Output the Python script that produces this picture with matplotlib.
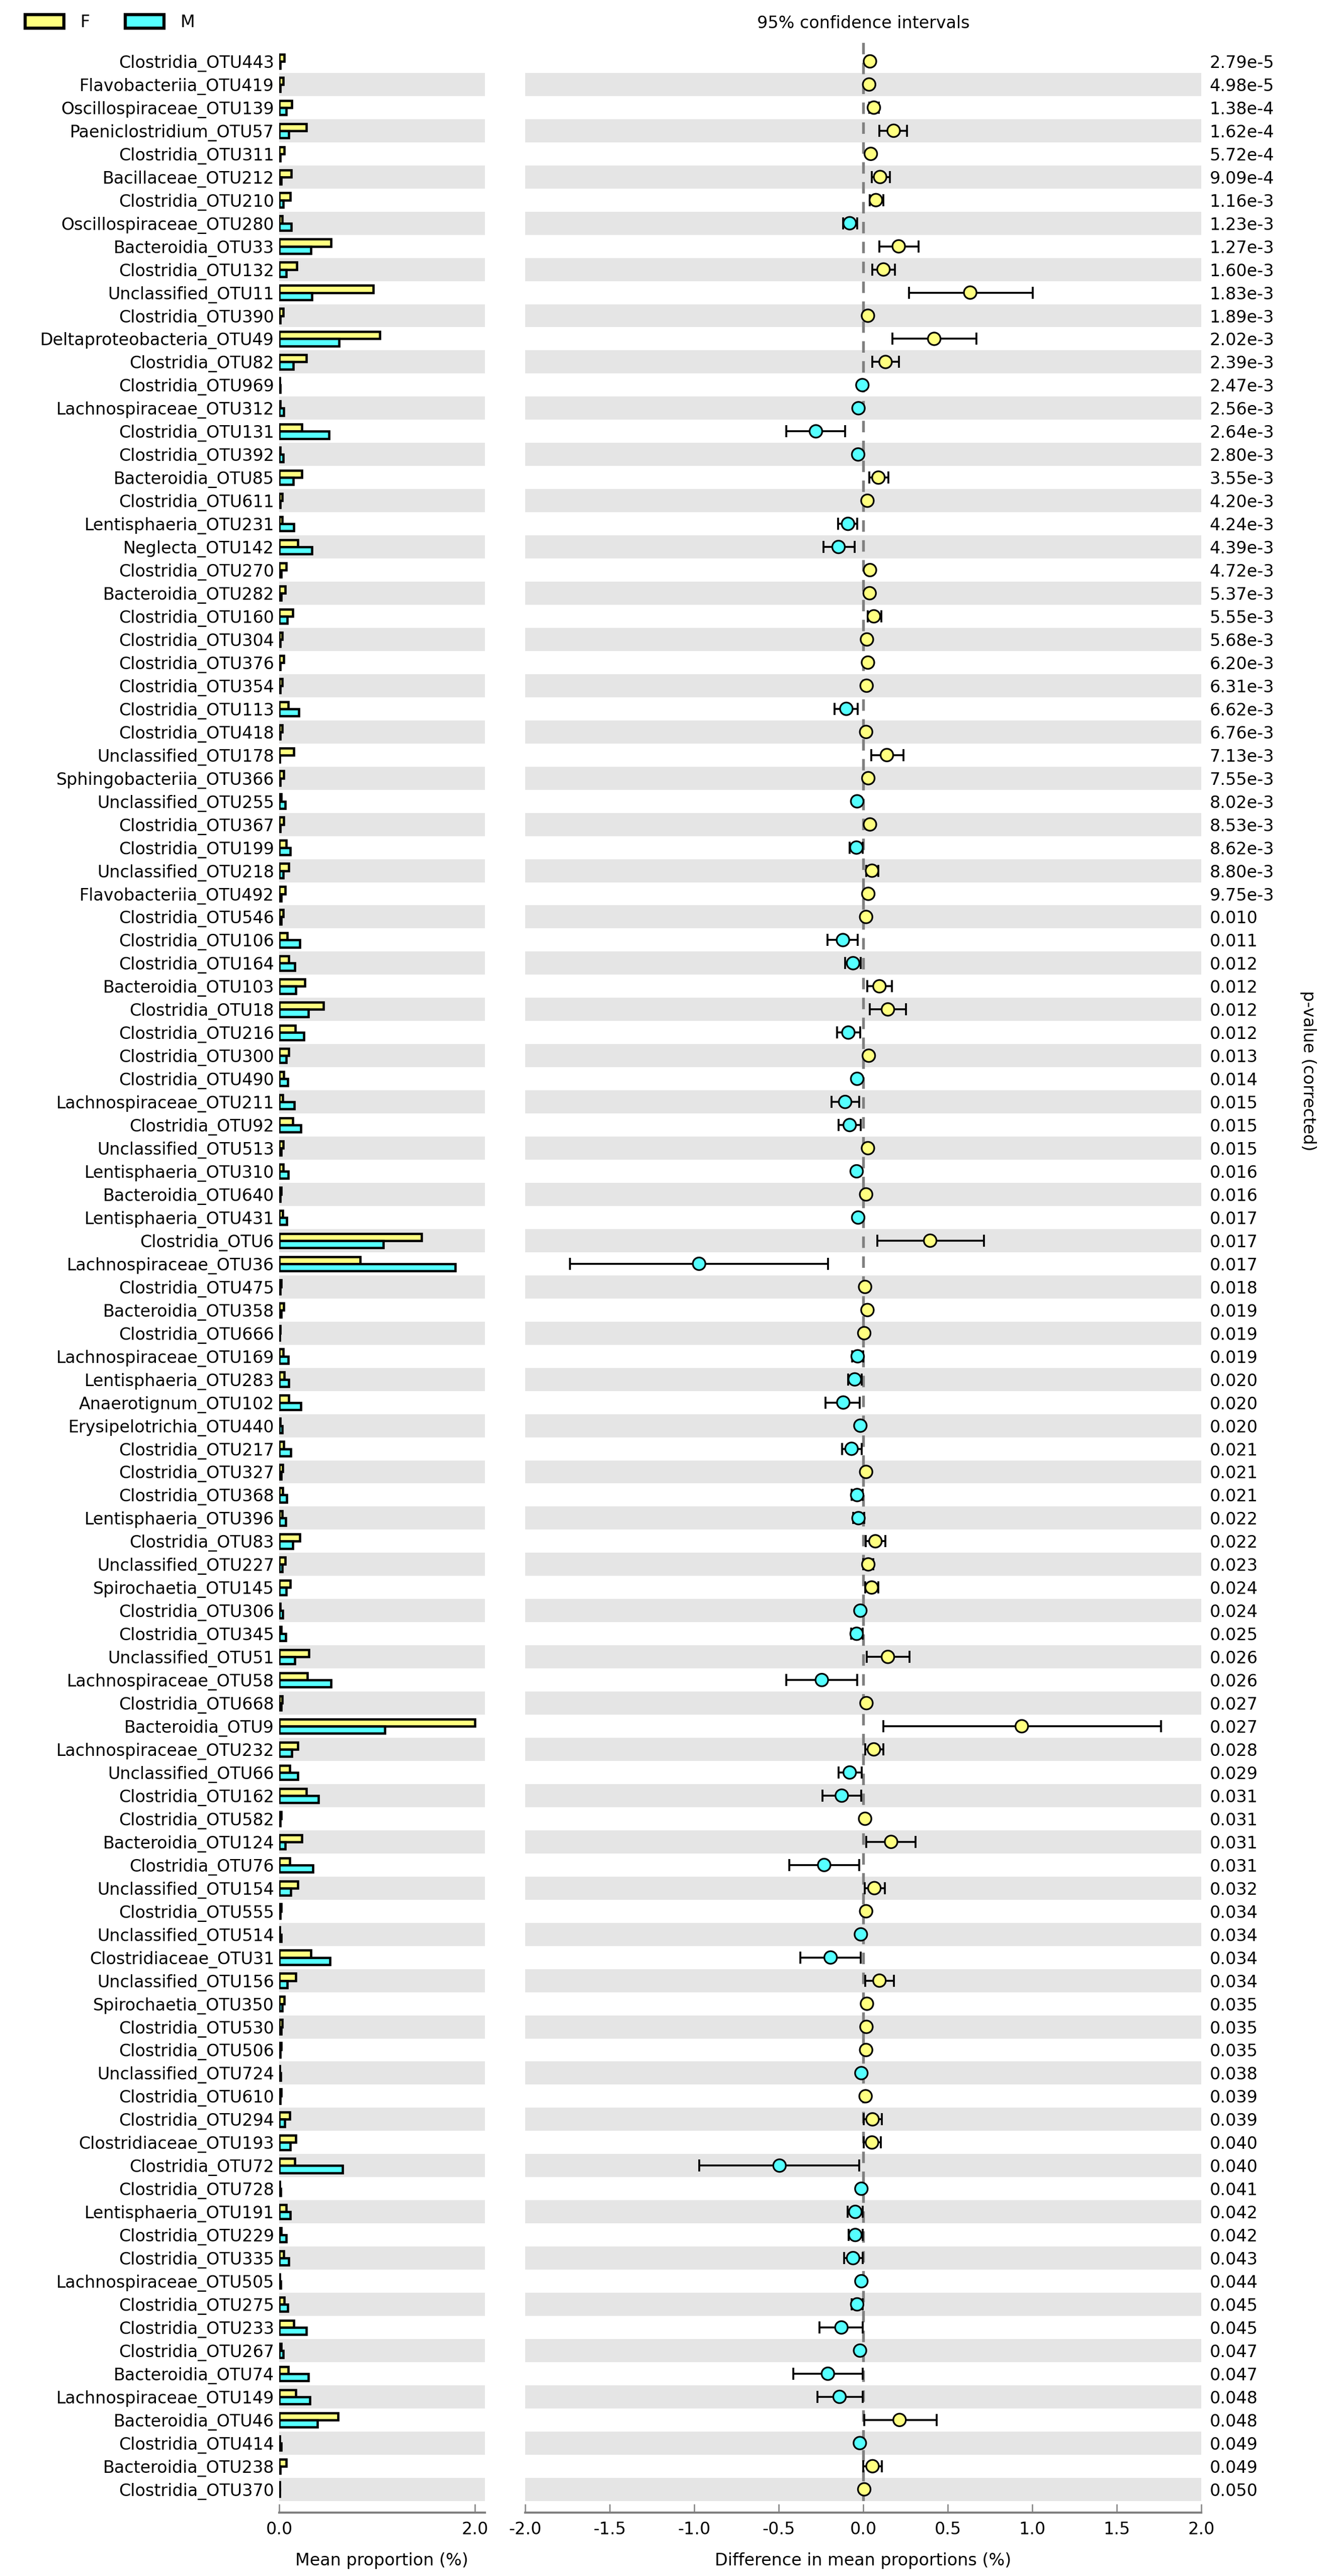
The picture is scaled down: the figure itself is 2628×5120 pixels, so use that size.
import matplotlib
matplotlib.use("Agg")
import matplotlib.pyplot as plt
from matplotlib.patches import Patch
import numpy as np

plt.rcParams["font.family"] = ["DejaVu Sans"]
plt.rcParams["axes.unicode_minus"] = False

# rows, top to bottom
names = [
    "Clostridia_OTU443", "Flavobacteriia_OTU419", "Oscillospiraceae_OTU139", "Paeniclostridium_OTU57",
    "Clostridia_OTU311", "Bacillaceae_OTU212", "Clostridia_OTU210", "Oscillospiraceae_OTU280",
    "Bacteroidia_OTU33", "Clostridia_OTU132", "Unclassified_OTU11", "Clostridia_OTU390",
    "Deltaproteobacteria_OTU49", "Clostridia_OTU82", "Clostridia_OTU969", "Lachnospiraceae_OTU312",
    "Clostridia_OTU131", "Clostridia_OTU392", "Bacteroidia_OTU85", "Clostridia_OTU611",
    "Lentisphaeria_OTU231", "Neglecta_OTU142", "Clostridia_OTU270", "Bacteroidia_OTU282",
    "Clostridia_OTU160", "Clostridia_OTU304", "Clostridia_OTU376", "Clostridia_OTU354",
    "Clostridia_OTU113", "Clostridia_OTU418", "Unclassified_OTU178", "Sphingobacteriia_OTU366",
    "Unclassified_OTU255", "Clostridia_OTU367", "Clostridia_OTU199", "Unclassified_OTU218",
    "Flavobacteriia_OTU492", "Clostridia_OTU546", "Clostridia_OTU106", "Clostridia_OTU164",
    "Bacteroidia_OTU103", "Clostridia_OTU18", "Clostridia_OTU216", "Clostridia_OTU300",
    "Clostridia_OTU490", "Lachnospiraceae_OTU211", "Clostridia_OTU92", "Unclassified_OTU513",
    "Lentisphaeria_OTU310", "Bacteroidia_OTU640", "Lentisphaeria_OTU431", "Clostridia_OTU6",
    "Lachnospiraceae_OTU36", "Clostridia_OTU475", "Bacteroidia_OTU358", "Clostridia_OTU666",
    "Lachnospiraceae_OTU169", "Lentisphaeria_OTU283", "Anaerotignum_OTU102", "Erysipelotrichia_OTU440",
    "Clostridia_OTU217", "Clostridia_OTU327", "Clostridia_OTU368", "Lentisphaeria_OTU396",
    "Clostridia_OTU83", "Unclassified_OTU227", "Spirochaetia_OTU145", "Clostridia_OTU306",
    "Clostridia_OTU345", "Unclassified_OTU51", "Lachnospiraceae_OTU58", "Clostridia_OTU668",
    "Bacteroidia_OTU9", "Lachnospiraceae_OTU232", "Unclassified_OTU66", "Clostridia_OTU162",
    "Clostridia_OTU582", "Bacteroidia_OTU124", "Clostridia_OTU76", "Unclassified_OTU154",
    "Clostridia_OTU555", "Unclassified_OTU514", "Clostridiaceae_OTU31", "Unclassified_OTU156",
    "Spirochaetia_OTU350", "Clostridia_OTU530", "Clostridia_OTU506", "Unclassified_OTU724",
    "Clostridia_OTU610", "Clostridia_OTU294", "Clostridiaceae_OTU193", "Clostridia_OTU72",
    "Clostridia_OTU728", "Lentisphaeria_OTU191", "Clostridia_OTU229", "Clostridia_OTU335",
    "Lachnospiraceae_OTU505", "Clostridia_OTU275", "Clostridia_OTU233", "Clostridia_OTU267",
    "Bacteroidia_OTU74", "Lachnospiraceae_OTU149", "Bacteroidia_OTU46", "Clostridia_OTU414",
    "Bacteroidia_OTU238", "Clostridia_OTU370",
]

f_mean = [
    0.05, 0.04, 0.13, 0.28, 0.05, 0.125, 0.115, 0.03, 0.53, 0.18, 0.96, 0.04,
    1.03, 0.275, 0.003, 0.01, 0.23, 0.01, 0.23, 0.03, 0.03, 0.19, 0.07, 0.06,
    0.14, 0.03, 0.045, 0.03, 0.095, 0.03, 0.15, 0.045, 0.02, 0.045, 0.07, 0.10,
    0.06, 0.04, 0.08, 0.10, 0.26, 0.45, 0.165, 0.10, 0.045, 0.035, 0.14, 0.04,
    0.04, 0.02, 0.035, 1.455, 0.83, 0.02, 0.045, 0.01, 0.04, 0.05, 0.10, 0.01,
    0.045, 0.035, 0.035, 0.03, 0.21, 0.06, 0.115, 0.01, 0.02, 0.305, 0.29, 0.03,
    2.0, 0.19, 0.11, 0.275, 0.02, 0.23, 0.11, 0.19, 0.02, 0.005, 0.325, 0.17,
    0.05, 0.03, 0.02, 0.005, 0.02, 0.11, 0.17, 0.16, 0.005, 0.07, 0.02, 0.045,
    0.005, 0.05, 0.15, 0.02, 0.095, 0.17, 0.60, 0.005, 0.07, 0.005,
]

m_mean = [
    0.01, 0.01, 0.07, 0.10, 0.01, 0.02, 0.04, 0.125, 0.325, 0.07, 0.335, 0.01,
    0.61, 0.145, 0.008, 0.045, 0.51, 0.04, 0.145, 0.01, 0.15, 0.335, 0.02, 0.02,
    0.08, 0.01, 0.01, 0.01, 0.20, 0.01, 0.005, 0.01, 0.06, 0.01, 0.115, 0.04,
    0.02, 0.02, 0.21, 0.16, 0.17, 0.30, 0.25, 0.07, 0.085, 0.155, 0.22, 0.02,
    0.095, 0.01, 0.075, 1.065, 1.80, 0.01, 0.02, 0.005, 0.09, 0.10, 0.22, 0.03,
    0.12, 0.02, 0.075, 0.065, 0.14, 0.03, 0.07, 0.035, 0.065, 0.16, 0.53, 0.02,
    1.08, 0.13, 0.19, 0.40, 0.01, 0.06, 0.345, 0.12, 0.01, 0.02, 0.52, 0.08,
    0.03, 0.02, 0.01, 0.015, 0.01, 0.055, 0.115, 0.65, 0.015, 0.115, 0.07, 0.10,
    0.015, 0.085, 0.28, 0.04, 0.30, 0.315, 0.39, 0.02, 0.01, 0.003,
]

diff = [
    0.040, 0.035, 0.063, 0.180, 0.045, 0.100, 0.075, -0.080, 0.210, 0.120, 0.633, 0.028,
    0.420, 0.132, -0.005, -0.028, -0.280, -0.030, 0.090, 0.025, -0.090, -0.146, 0.040, 0.038,
    0.063, 0.022, 0.028, 0.020, -0.100, 0.017, 0.140, 0.030, -0.036, 0.040, -0.040, 0.052,
    0.030, 0.017, -0.120, -0.060, 0.096, 0.146, -0.088, 0.033, -0.036, -0.107, -0.080, 0.028,
    -0.039, 0.017, -0.030, 0.396, -0.971, 0.011, 0.025, 0.006, -0.033, -0.050, -0.118, -0.017,
    -0.069, 0.017, -0.036, -0.028, 0.072, 0.030, 0.050, -0.017, -0.039, 0.146, -0.245, 0.019,
    0.938, 0.063, -0.080, -0.127, 0.011, 0.165, -0.231, 0.066, 0.017, -0.014, -0.193, 0.096,
    0.022, 0.019, 0.017, -0.011, 0.014, 0.055, 0.052, -0.495, -0.011, -0.047, -0.047, -0.060,
    -0.011, -0.036, -0.129, -0.019, -0.209, -0.140, 0.215, -0.020, 0.055, 0.006,
]

ci_low = [
    0.025, 0.020, 0.035, 0.096, 0.030, 0.050, 0.040, -0.118, 0.096, 0.055, 0.270, 0.015,
    0.173, 0.055, -0.010, -0.042, -0.454, -0.045, 0.036, 0.012, -0.149, -0.234, 0.022, 0.020,
    0.028, 0.010, 0.015, 0.009, -0.170, 0.007, 0.047, 0.015, -0.055, 0.020, -0.080, 0.017,
    0.016, 0.006, -0.212, -0.107, 0.025, 0.039, -0.154, 0.018, -0.052, -0.187, -0.146, 0.014,
    -0.055, 0.007, -0.045, 0.083, -1.734, 0.003, 0.012, 0.001, -0.066, -0.088, -0.223, -0.028,
    -0.124, 0.007, -0.069, -0.061, 0.014, 0.000, 0.011, -0.030, -0.072, 0.022, -0.454, 0.008,
    0.118, 0.011, -0.146, -0.242, 0.003, 0.019, -0.438, 0.008, 0.006, -0.025, -0.371, 0.011,
    0.008, 0.006, 0.006, -0.020, 0.004, 0.003, 0.003, -0.969, -0.020, -0.091, -0.085, -0.113,
    -0.020, -0.069, -0.259, -0.034, -0.413, -0.272, 0.006, -0.030, 0.000, 0.001,
]

ci_high = [
    0.055, 0.050, 0.092, 0.260, 0.060, 0.157, 0.120, -0.036, 0.327, 0.187, 1.004, 0.042,
    0.669, 0.212, -0.001, -0.015, -0.107, -0.015, 0.149, 0.038, -0.036, -0.050, 0.058, 0.055,
    0.107, 0.035, 0.042, 0.032, -0.033, 0.028, 0.237, 0.046, -0.018, 0.058, -0.002, 0.088,
    0.045, 0.028, -0.033, -0.014, 0.170, 0.253, -0.019, 0.048, -0.020, -0.025, -0.014, 0.042,
    -0.022, 0.027, -0.015, 0.715, -0.209, 0.020, 0.038, 0.011, -0.001, -0.008, -0.022, -0.006,
    -0.008, 0.028, -0.003, 0.005, 0.132, 0.060, 0.090, -0.005, -0.003, 0.275, -0.036, 0.030,
    1.761, 0.118, -0.008, -0.011, 0.020, 0.311, -0.025, 0.127, 0.028, -0.004, -0.014, 0.182,
    0.036, 0.032, 0.028, -0.003, 0.024, 0.110, 0.105, -0.025, -0.003, -0.003, -0.003, -0.003,
    -0.003, -0.003, -0.003, -0.005, -0.003, -0.003, 0.435, -0.008, 0.110, 0.011,
]

p_values = [
    "2.79e-5", "4.98e-5", "1.38e-4", "1.62e-4", "5.72e-4", "9.09e-4", "1.16e-3", "1.23e-3",
    "1.27e-3", "1.60e-3", "1.83e-3", "1.89e-3", "2.02e-3", "2.39e-3", "2.47e-3", "2.56e-3",
    "2.64e-3", "2.80e-3", "3.55e-3", "4.20e-3", "4.24e-3", "4.39e-3", "4.72e-3", "5.37e-3",
    "5.55e-3", "5.68e-3", "6.20e-3", "6.31e-3", "6.62e-3", "6.76e-3", "7.13e-3", "7.55e-3",
    "8.02e-3", "8.53e-3", "8.62e-3", "8.80e-3", "9.75e-3", "0.010", "0.011", "0.012",
    "0.012", "0.012", "0.012", "0.013", "0.014", "0.015", "0.015", "0.015",
    "0.016", "0.016", "0.017", "0.017", "0.017", "0.018", "0.019", "0.019",
    "0.019", "0.020", "0.020", "0.020", "0.021", "0.021", "0.021", "0.022",
    "0.022", "0.023", "0.024", "0.024", "0.025", "0.026", "0.026", "0.027",
    "0.027", "0.028", "0.029", "0.031", "0.031", "0.031", "0.031", "0.032",
    "0.034", "0.034", "0.034", "0.034", "0.035", "0.035", "0.035", "0.038",
    "0.039", "0.039", "0.040", "0.040", "0.041", "0.042", "0.042", "0.043",
    "0.044", "0.045", "0.045", "0.047", "0.047", "0.048", "0.048", "0.049",
    "0.049", "0.050",
]

group_names = ["F", "M"]
bar_ticks = [0.0, 2.0]
diff_ticks = [-2.0, -1.5, -1.0, -0.5, 0.0, 0.5, 1.0, 1.5, 2.0]

YELLOW = "#ffff80"
CYAN = "#55ffff"
BAND = "#e5e5e5"

W, H = 2628, 5120
fig = plt.figure(figsize=(W / 300, H / 300), dpi=300)

ax_bottom = 1 - 4970.7 / H
ax_height = 4894.7 / H
ax_bar = fig.add_axes([555 / W, ax_bottom, 408.6 / W, ax_height])
ax_err = fig.add_axes([1044 / W, ax_bottom, 1344 / W, ax_height])

n = len(names)
y = np.arange(n)[::-1]

for ax in (ax_bar, ax_err):
    for i in range(n):
        if i % 2 == 1:
            ax.axhspan(y[i] - 0.5, y[i] + 0.5, color=BAND, lw=0, zorder=0)
    ax.set_ylim(-0.5, n)
    for side in ("top", "right", "left"):
        ax.spines[side].set_visible(False)
    ax.spines["bottom"].set_position(("outward", 5.6))
    ax.spines["bottom"].set_color("gray")
    ax.spines["bottom"].set_linewidth(1.0)
    ax.tick_params(axis="x", direction="in", length=4, width=0.6, color="gray",
                   pad=4, labelsize=8)

# mean proportions
bh = 0.31
ax_bar.barh(y + bh / 2, f_mean, height=bh, color=YELLOW, edgecolor="black", lw=1.1, zorder=2)
ax_bar.barh(y - bh / 2, m_mean, height=bh, color=CYAN, edgecolor="black", lw=1.1, zorder=2)
ax_bar.set_xlim(0, 2.1)
ax_bar.set_xticks(bar_ticks)
ax_bar.set_xticklabels(["%.1f" % t for t in bar_ticks])
ax_bar.set_yticks(y)
ax_bar.set_yticklabels(names, fontsize=8)
ax_bar.tick_params(axis="y", length=0, pad=2.4)
ax_bar.set_xlabel("Mean proportion (%)", fontsize=8, labelpad=7)

# differences with confidence intervals
d = np.array(diff)
lo = np.array(ci_low)
hi = np.array(ci_high)
ax_err.axvline(0, color="gray", ls="--", lw=1.3, dashes=(4.2, 3.1), zorder=1)
ax_err.errorbar(d, y, xerr=[d - lo, hi - d], fmt="none", ecolor="black",
                elinewidth=0.9, capsize=2.8, capthick=0.9, zorder=2)
colors = [YELLOW if v > 0 else CYAN for v in diff]
ax_err.scatter(d, y, s=36, c=colors, edgecolors="black", linewidths=0.8, zorder=3)
ax_err.set_xlim(-2, 2)
ax_err.set_xticks(diff_ticks)
ax_err.set_xticklabels(["%.1f" % t for t in diff_ticks])
ax_err.set_yticks([])
ax_err.set_xlabel("Difference in mean proportions (%)", fontsize=8, labelpad=7)

ax_p = ax_err.twinx()
ax_p.set_ylim(ax_err.get_ylim())
ax_p.set_yticks(y)
ax_p.set_yticklabels(p_values, fontsize=8)
ax_p.tick_params(axis="y", length=0, pad=4)
for side in ax_p.spines:
    ax_p.spines[side].set_visible(False)

fig.text(2600 / W, 1 - 2128 / H, "p-value (corrected)", rotation=270,
         ha="center", va="center", fontsize=8)
fig.text(1716 / W, 1 - 47 / H, "95% confidence intervals", ha="center", va="center", fontsize=8)

handles = [Patch(facecolor=YELLOW, edgecolor="black", lw=1.5),
           Patch(facecolor=CYAN, edgecolor="black", lw=1.5)]
fig.legend(handles, group_names, loc="upper left", bbox_to_anchor=(50 / W, 1 - 28 / H),
           ncol=2, frameon=False, fontsize=8, borderpad=0, borderaxespad=0,
           handlelength=2.3, handleheight=0.9, handletextpad=1.0, columnspacing=2.1)

fig.savefig("out.png", dpi=300)
